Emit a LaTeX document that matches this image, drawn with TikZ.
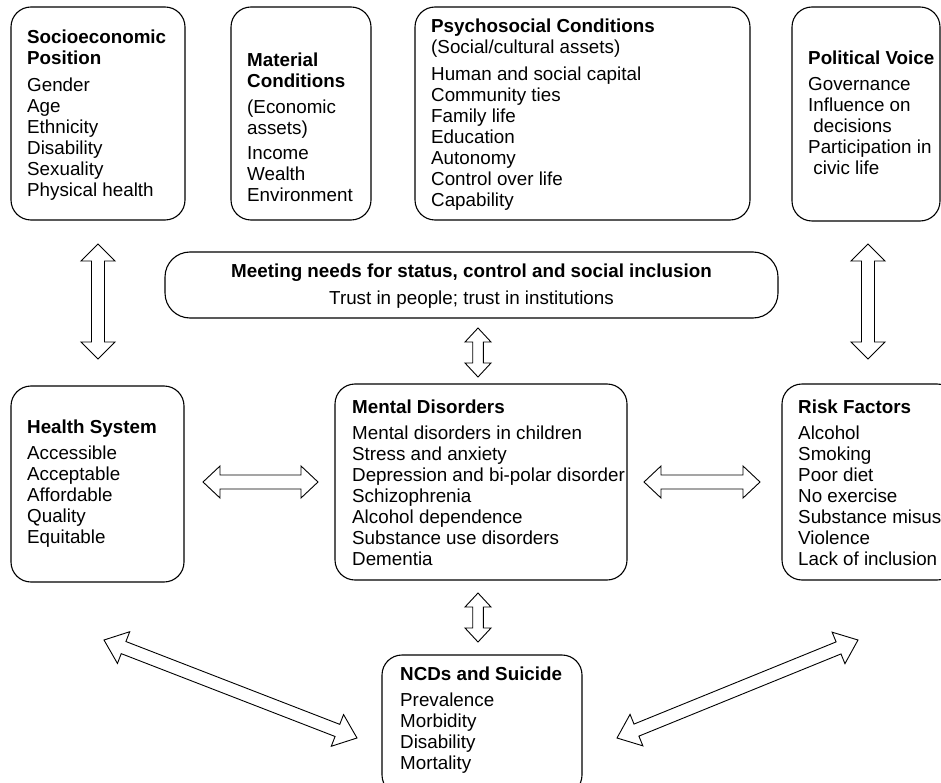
\documentclass[tikz,border=0pt]{standalone}
\usepackage{fontspec}
\setmainfont{Liberation Sans}
\usetikzlibrary{calc}
\tikzset{
  box/.style={draw, line width=1.1pt, rounded corners=20pt, anchor=north west, inner sep=0pt, outer sep=0pt},
  txt/.style={anchor=base west, inner sep=0pt, font=\fontsize{18.8}{21}\selectfont},
  ctxt/.style={anchor=base, inner sep=0pt, font=\fontsize{18.8}{21}\selectfont},
  barrow/.style={draw, line width=0.9pt, fill=white, line join=miter},
}
% block double arrow: from, to, shaft half width, head half width, head length
\newcommand\blockarr[5]{%
  \draw[barrow] let \p1=(#1), \p2=(#2),
      \n1={atan2(\y2-\y1,\x2-\x1)}, \n2={veclen(\x2-\x1,\y2-\y1)} in
    [shift={(\p1)}, rotate=\n1]
    (0,0) -- (#5,#4) -- (#5,#3) -- (\n2-#5,#3) -- (\n2-#5,#4) -- (\n2,0)
    -- (\n2-#5,-#4) -- (\n2-#5,-#3) -- (#5,-#3) -- (#5,-#4) -- cycle;}
\newcommand\tl[1]{\begin{tabular}[t]{@{}l@{}}#1\end{tabular}}
\begin{document}
\begin{tikzpicture}[x=1pt,y=-1pt]
\useasboundingbox (0,0) rectangle (941,783);

% boxes
\node[box, minimum width=174pt, minimum height=213pt] (se) at (11,7) {};
\node[box, minimum width=140pt, minimum height=213pt] (mc) at (231,7) {};
\node[box, minimum width=335pt, minimum height=213pt] (ps) at (415,7) {};
\node[box, minimum width=148pt, minimum height=214pt] (pv) at (792,7) {};
\node[box, rounded corners=25pt, minimum width=613pt, minimum height=66pt] (mn) at (165,252) {};
\node[box, minimum width=173pt, minimum height=196pt] (hs) at (11,386) {};
\node[box, minimum width=292pt, minimum height=196pt] (md) at (335,384) {};
\node[box, minimum width=175pt, minimum height=196pt] (rf) at (782,384) {};
\node[box, minimum width=200pt, minimum height=140pt] (nc) at (382,655) {};

% texts
\node[txt] (se-t) at (27,43.5) {\tl{\textbf{Socioeconomic}\\ \textbf{Position}\\[6pt]
  Gender\\ Age\\ Ethnicity\\ Disability\\ Sexuality\\ Physical health}};
\node[txt] (mc-t) at (247,66.5) {\tl{\textbf{Material}\\ \textbf{Conditions}\\[5pt]
  (Economic\\ assets)\\[4pt] Income\\ Wealth\\ Environment}};
\node[txt] (ps-t) at (431,32.5) {\tl{\textbf{Psychosocial Conditions}\\ (Social/cultural assets)\\[6pt]
  Human and social capital\\ Community ties\\ Family life\\ Education\\ Autonomy\\ Control over life\\ Capability}};
\node[txt] (pv-t) at (808,64.5) {\tl{\textbf{Political Voice}\\[5pt]
  Governance\\ Influence on\\ \ decisions\\ Participation in\\ \ civic life}};
\node[ctxt] (mn-t1) at (471.5,277.5) {\textbf{Meeting needs for status, control and social inclusion}};
\node[ctxt] (mn-t2) at (471.5,304.5) {Trust in people; trust in institutions};
\node[txt] (hs-t) at (27,433.5) {\tl{\textbf{Health System}\\[5pt]
  Accessible\\ Acceptable\\ Affordable\\ Quality\\ Equitable}};
\node[txt] (md-t) at (352,413.5) {\tl{\textbf{Mental Disorders}\\[5pt]
  Mental disorders in children\\ Stress and anxiety\\ Depression and bi-polar disorder\\ Schizophrenia\\ Alcohol dependence\\ Substance use disorders\\ Dementia}};
\node[txt] (rf-t) at (798,413.5) {\tl{\textbf{Risk Factors}\\[5pt]
  Alcohol\\ Smoking\\ Poor diet\\ No exercise\\ Substance misuse\\ Violence\\ Lack of inclusion}};
\node[txt] (nc-t) at (400,680) {\tl{\textbf{NCDs and Suicide}\\[5pt]
  Prevalence\\ Morbidity\\ Disability\\ Mortality}};

% arrow end points
\coordinate (a1s) at (98,244);  \coordinate (a1e) at (98,359);
\coordinate (a2s) at (868,244); \coordinate (a2e) at (868,359);
\coordinate (a3s) at (478,328); \coordinate (a3e) at (478,377);
\coordinate (a4s) at (478,593); \coordinate (a4e) at (478,642);
\coordinate (a5s) at (203,482); \coordinate (a5e) at (318,482);
\coordinate (a6s) at (644,482); \coordinate (a6e) at (760,482);
\coordinate (a7s) at (104,640); \coordinate (a7e) at (357,738);
\coordinate (a8s) at (617,738); \coordinate (a8e) at (858,640);

\blockarr{a1s}{a1e}{6.5}{17}{17}
\blockarr{a2s}{a2e}{6.5}{17}{17}
\blockarr{a3s}{a3e}{5.3}{13}{14}
\blockarr{a4s}{a4e}{5.3}{13}{14}
\blockarr{a5s}{a5e}{7}{16}{17}
\blockarr{a6s}{a6e}{7}{16}{17}
\blockarr{a7s}{a7e}{6.5}{17}{21}
\blockarr{a8s}{a8e}{6.5}{17}{21}
\end{tikzpicture}
\end{document}
